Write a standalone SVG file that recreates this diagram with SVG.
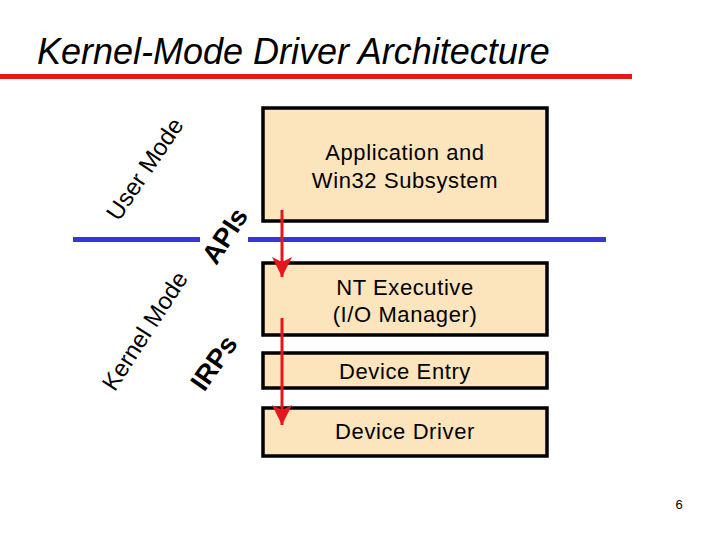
<svg xmlns="http://www.w3.org/2000/svg" width="720" height="540" viewBox="0 0 720 540">
<style>
.box{fill:#FCE4BD;stroke:#000;stroke-width:3.5}
.bt{font-family:"Liberation Sans",Arial,sans-serif;font-size:22px;letter-spacing:0.6px;text-anchor:middle;fill:#000}
.mode{font-family:"Liberation Sans",Arial,sans-serif;font-size:24px;text-anchor:middle;fill:#000}
.lbl{font-family:"Liberation Sans",Arial,sans-serif;font-size:27px;font-weight:bold;text-anchor:middle;fill:#000}
.arr{stroke:#E3171C;stroke-width:3;fill:none;marker-end:url(#ah)}
</style>
<defs>
<marker id="ah" markerUnits="userSpaceOnUse" markerWidth="22" markerHeight="22" viewBox="0 0 22 22" refX="20" refY="11" orient="auto">
<path d="M0,1 L20,11 L0,21 L5,11 Z" fill="#E3171C"/>
</marker>
</defs>
<rect width="720" height="540" fill="#fff"/>
<g id="title">
<text x="37" y="64" font-family="'Liberation Sans',Arial,sans-serif" font-size="36" font-style="italic" fill="#000">Kernel-Mode Driver Architecture</text>
<rect x="0" y="74" width="632" height="5" fill="#E3171C"/>
</g>
<g id="boundary">
<rect x="73" y="237" width="127" height="5" fill="#3636D8"/>
<rect x="248" y="237" width="358" height="5" fill="#3636D8"/>
</g>
<g id="labels">
<text class="mode" transform="translate(145,169) rotate(-56)" y="8">User Mode</text>
<text class="mode" transform="translate(145,331) rotate(-57)" y="8">Kernel Mode</text>
<text class="lbl" transform="translate(225,236) rotate(-57)" y="9">APIs</text>
<text class="lbl" transform="translate(214,363) rotate(-55)" y="9">IRPs</text>
</g>
<g id="app">
<rect class="box" x="263" y="108" width="284" height="113"/>
<text class="bt" x="405" y="160">Application and</text>
<text class="bt" x="405" y="188">Win32 Subsystem</text>
</g>
<g id="ntexec">
<rect class="box" x="263" y="263" width="284" height="72"/>
<text class="bt" x="405" y="295">NT Executive</text>
<text class="bt" x="405" y="322">(I/O Manager)</text>
</g>
<g id="entry">
<rect class="box" x="263" y="353" width="284" height="35"/>
<text class="bt" x="405" y="379">Device Entry</text>
</g>
<g id="driver">
<rect class="box" x="263" y="408" width="284" height="48"/>
<text class="bt" x="405" y="439">Device Driver</text>
</g>
<g id="connectors">
<line class="arr" x1="282" y1="210" x2="282" y2="277"/>
<line class="arr" x1="282" y1="318" x2="282" y2="425"/>
</g>
<text x="679" y="509" font-family="'Liberation Sans',Arial,sans-serif" font-size="13" text-anchor="middle" fill="#000">6</text>
</svg>
